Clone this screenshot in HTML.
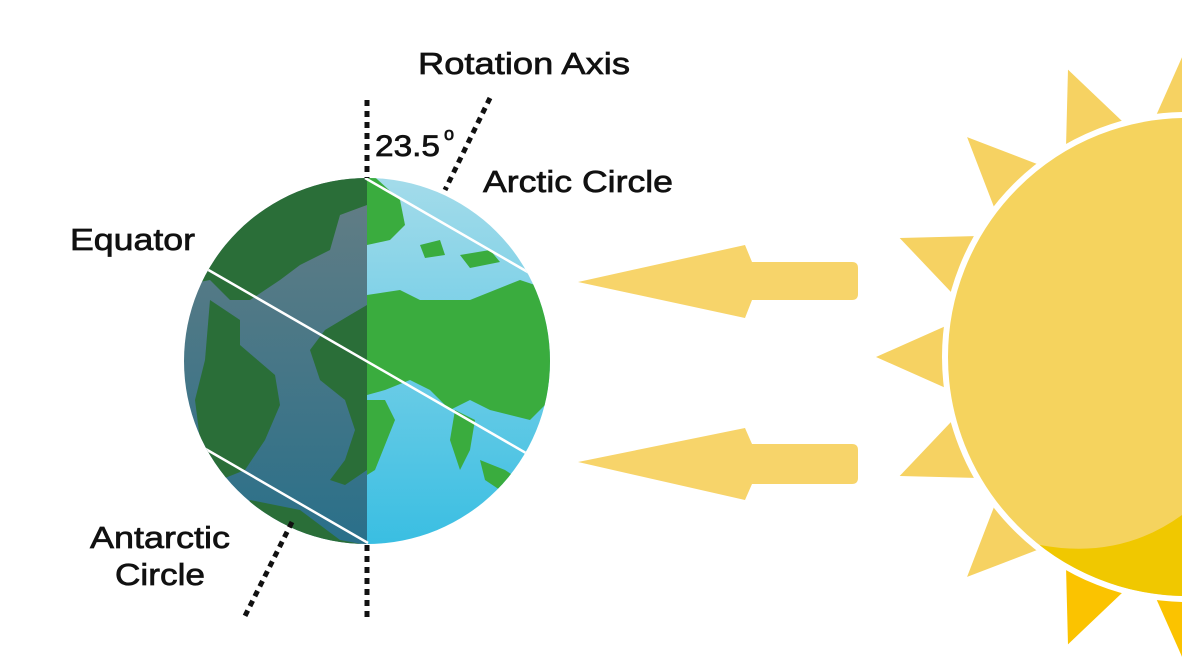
<!DOCTYPE html>
<html><head><style>
html,body{margin:0;padding:0;background:#fff;}
svg{display:block;}
text{font-family:"Liberation Sans",Arial,sans-serif;fill:#111;stroke:#111;stroke-width:0.7;}
</style></head><body>
<svg width="1182" height="664" viewBox="0 0 1182 664" xmlns="http://www.w3.org/2000/svg">
<defs>
<clipPath id="ec"><circle cx="367" cy="361" r="183"/></clipPath>
<clipPath id="sc"><circle cx="1187" cy="357" r="239"/></clipPath>
<linearGradient id="day" x1="0" y1="0" x2="0" y2="1">
<stop offset="0" stop-color="#a6dcea"/><stop offset="1" stop-color="#35bde2"/></linearGradient>
<linearGradient id="night" x1="0" y1="0" x2="0" y2="1">
<stop offset="0" stop-color="#667e84"/><stop offset="1" stop-color="#276f8a"/></linearGradient>
</defs>

<!-- Sun rays -->
<g fill="#f6d262">
<polygon points="876,357 948,325 948,389" transform="rotate(0 1187 357)"/>
<polygon points="876,357 948,325 948,389" transform="rotate(22.5 1187 357)"/>
<polygon points="876,357 948,325 948,389" transform="rotate(45 1187 357)"/>
<polygon points="876,357 948,325 948,389" transform="rotate(67.5 1187 357)"/>
<polygon points="876,357 948,325 948,389" transform="rotate(90 1187 357)"/>
<polygon points="876,357 948,325 948,389" transform="rotate(-22.5 1187 357)"/>
<polygon points="876,357 948,325 948,389" transform="rotate(-45 1187 357)"/>
</g>
<g fill="#fbc300">
<polygon points="876,357 948,325 948,389" transform="rotate(-67.5 1187 357)"/>
<polygon points="876,357 948,325 948,389" transform="rotate(-90 1187 357)"/>
</g>
<!-- Sun body -->
<circle cx="1187" cy="357" r="242" fill="#f5d35e" stroke="#fff" stroke-width="6"/>
<path clip-path="url(#sc)" d="M1040,545 Q1120,560 1182,515 L1182,664 L1000,664 Z" fill="#f0c800"/>

<!-- Arrows -->
<g fill="#f7d46a">
<path d="M578,282 L745,245 L752,262 L852,262 Q858,262 858,268 L858,294 Q858,300 852,300 L752,300 L745,318 Z"/>
<path d="M578,462 L745,428 L752,444 L852,444 Q858,444 858,450 L858,478 Q858,484 852,484 L752,484 L745,500 Z"/>
</g>

<!-- Earth -->
<g clip-path="url(#ec)">
<rect x="367" y="170" width="200" height="390" fill="url(#day)"/>
<rect x="170" y="170" width="197" height="390" fill="url(#night)"/>
<g fill="#2a6e38">
<path d="M184,170 L367,170 L367,205 L340,215 L330,250 L300,265 L280,280 L250,300 L230,300 L210,280 L184,285 Z"/>
<path d="M210,300 L240,320 L240,345 L275,375 L280,405 L265,440 L245,470 L220,480 L200,440 L195,400 L205,360 Z"/>
<path d="M367,305 L350,315 L325,330 L310,350 L320,380 L345,400 L355,430 L345,460 L330,480 L345,485 L367,470 Z"/>
<path d="M250,500 L300,510 L340,540 L367,545 L367,560 L230,560 Z"/>
</g>
<g fill="#3aac3e">
<path d="M367,170 L400,200 L405,225 L390,240 L367,245 Z"/>
<path d="M367,295 L400,290 L420,300 L470,300 L520,280 L550,290 L550,400 L530,420 L510,415 L490,410 L470,400 L450,410 L430,390 L410,380 L385,390 L367,395 Z"/>
<path d="M367,400 L385,400 L395,420 L385,445 L375,470 L367,475 Z"/>
<path d="M455,410 L475,420 L470,450 L460,470 L450,440 Z"/>
<path d="M480,460 L505,470 L520,480 L500,490 L485,480 Z"/>
<path d="M420,245 L440,240 L445,255 L425,258 Z"/>
<path d="M460,255 L490,250 L500,262 L470,268 Z"/>
</g>
<g stroke="#fff" stroke-width="2.5">
<line x1="365" y1="178" x2="545" y2="282"/>
<line x1="205" y1="268" x2="545" y2="464"/>
<line x1="190" y1="440" x2="368" y2="543"/>
</g>
</g>

<!-- Axes -->
<g stroke="#111" stroke-width="5" stroke-dasharray="6 5" fill="none">
<line x1="367" y1="100" x2="367" y2="178"/>
<line x1="367" y1="545" x2="367" y2="622"/>
<line x1="490" y1="98" x2="445" y2="190"/>
<line x1="292" y1="522" x2="245" y2="616"/>
</g>

<!-- Labels -->
<text x="418" y="74" font-size="31" textLength="212" lengthAdjust="spacingAndGlyphs">Rotation Axis</text>
<text x="375" y="156" font-size="30" textLength="65" lengthAdjust="spacingAndGlyphs">23.5</text>
<text x="444" y="140" font-size="18" stroke-width="0.4">o</text>
<text x="483" y="192" font-size="31" textLength="190" lengthAdjust="spacingAndGlyphs">Arctic Circle</text>
<text x="70" y="250" font-size="31" textLength="125" lengthAdjust="spacingAndGlyphs">Equator</text>
<text x="90" y="548" font-size="31" textLength="140" lengthAdjust="spacingAndGlyphs">Antarctic</text>
<text x="115" y="585" font-size="31" textLength="90" lengthAdjust="spacingAndGlyphs">Circle</text>
</svg>
</body></html>
